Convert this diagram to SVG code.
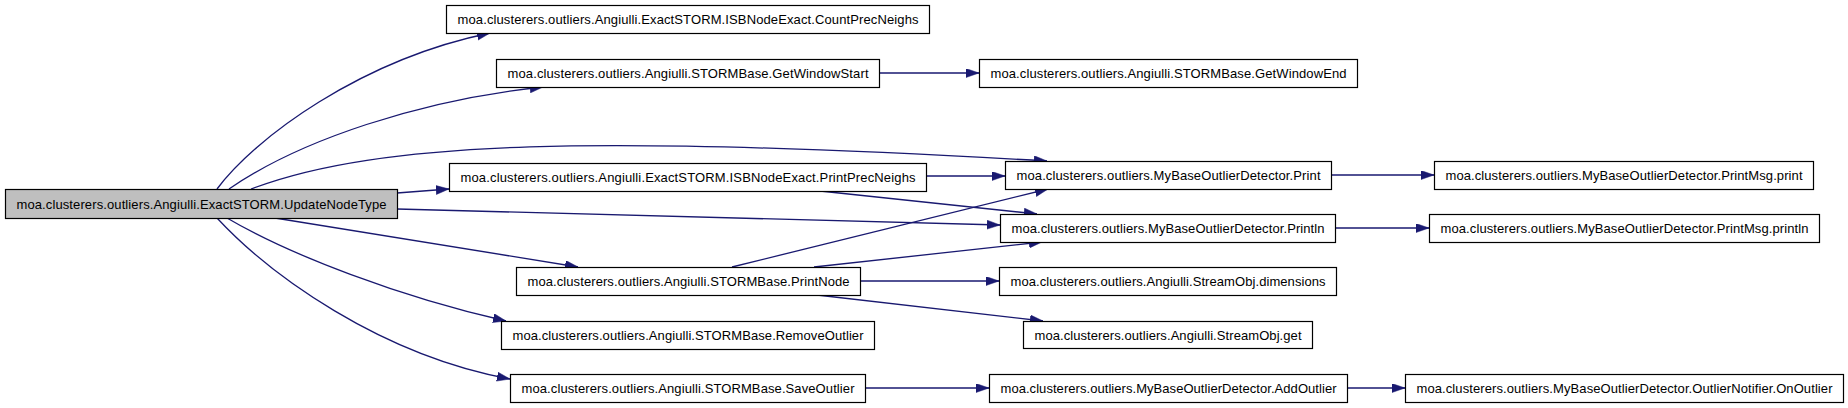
<svg xmlns="http://www.w3.org/2000/svg" width="1848" height="408" viewBox="0 0 1848 408">
<style>
  .node rect { fill: #ffffff; stroke: #000000; stroke-width: 1.2; }
  .node.root rect { fill: #bfbfbf; }
  .node text { font-family: "Liberation Sans", Arial, sans-serif; font-size: 13px; fill: #000000; text-anchor: middle; }
  .edges path { fill: none; stroke: #191970; stroke-width: 1.3; marker-end: url(#arrow); }
</style>
<defs>
  <marker id="arrow" markerUnits="userSpaceOnUse" markerWidth="14" markerHeight="10" refX="13" refY="4.5" orient="auto">
    <path d="M0,0 L13,4.5 L0,9 z" fill="#191970" stroke="#191970" stroke-width="0.5"/>
  </marker>
</defs>
<rect width="1848" height="408" fill="#ffffff"/>
<g class="edges" id="edges">
  <path d="M217,189 C255,138 360,60 490,33"/>
  <path d="M229,189 C300,140 420,100 543,87"/>
  <path d="M251,189 C380,140 600,135 1047,161"/>
  <path d="M397,193 L449,189"/>
  <path d="M397,209 L1000,225"/>
  <path d="M275,218 L578,267"/>
  <path d="M227,218 C290,255 400,297 506,321"/>
  <path d="M217,218 C270,275 380,355 510,379"/>
  <path d="M879,73 L979,73"/>
  <path d="M926,176 L1005,176"/>
  <path d="M820,191 L1037,214"/>
  <path d="M1331,175 L1434,175"/>
  <path d="M1335,228 L1429,228"/>
  <path d="M732,267 L1048,189"/>
  <path d="M814,267 L1042,242"/>
  <path d="M860,281 L999,281"/>
  <path d="M817,295 L1043,321"/>
  <path d="M865,388 L989,388"/>
  <path d="M1347,388 L1405,388"/>
</g>
<g class="node root" id="node-UpdateNodeType">
  <rect x="5.5" y="189.5" width="392" height="29"/>
  <text x="201.5" y="208.5" textLength="370" lengthAdjust="spacing">moa.clusterers.outliers.Angiulli.ExactSTORM.UpdateNodeType</text>
</g>
<g class="node" id="node-CountPrecNeighs">
  <rect x="446.5" y="5.5" width="483" height="28"/>
  <text x="688" y="24" textLength="461" lengthAdjust="spacing">moa.clusterers.outliers.Angiulli.ExactSTORM.ISBNodeExact.CountPrecNeighs</text>
</g>
<g class="node" id="node-GetWindowStart">
  <rect x="496.5" y="59.5" width="383" height="28"/>
  <text x="688" y="78" textLength="361" lengthAdjust="spacing">moa.clusterers.outliers.Angiulli.STORMBase.GetWindowStart</text>
</g>
<g class="node" id="node-GetWindowEnd">
  <rect x="979.5" y="59.5" width="378" height="28"/>
  <text x="1168.5" y="78" textLength="356" lengthAdjust="spacing">moa.clusterers.outliers.Angiulli.STORMBase.GetWindowEnd</text>
</g>
<g class="node" id="node-PrintPrecNeighs">
  <rect x="449.5" y="163.5" width="477" height="28"/>
  <text x="688" y="182" textLength="455" lengthAdjust="spacing">moa.clusterers.outliers.Angiulli.ExactSTORM.ISBNodeExact.PrintPrecNeighs</text>
</g>
<g class="node" id="node-Print">
  <rect x="1005.5" y="161.5" width="326" height="28"/>
  <text x="1168.5" y="180" textLength="304" lengthAdjust="spacing">moa.clusterers.outliers.MyBaseOutlierDetector.Print</text>
</g>
<g class="node" id="node-PrintMsg-print">
  <rect x="1434.5" y="161.5" width="379" height="28"/>
  <text x="1624" y="180" textLength="357" lengthAdjust="spacing">moa.clusterers.outliers.MyBaseOutlierDetector.PrintMsg.print</text>
</g>
<g class="node" id="node-Println">
  <rect x="1000.5" y="214.5" width="335" height="28"/>
  <text x="1168" y="233" textLength="313" lengthAdjust="spacing">moa.clusterers.outliers.MyBaseOutlierDetector.Println</text>
</g>
<g class="node" id="node-PrintMsg-println">
  <rect x="1429.5" y="214.5" width="390" height="28"/>
  <text x="1624.5" y="233" textLength="368" lengthAdjust="spacing">moa.clusterers.outliers.MyBaseOutlierDetector.PrintMsg.println</text>
</g>
<g class="node" id="node-PrintNode">
  <rect x="516.5" y="267.5" width="344" height="28"/>
  <text x="688.5" y="286" textLength="322" lengthAdjust="spacing">moa.clusterers.outliers.Angiulli.STORMBase.PrintNode</text>
</g>
<g class="node" id="node-dimensions">
  <rect x="999.5" y="267.5" width="337" height="28"/>
  <text x="1168" y="286" textLength="315" lengthAdjust="spacing">moa.clusterers.outliers.Angiulli.StreamObj.dimensions</text>
</g>
<g class="node" id="node-RemoveOutlier">
  <rect x="501.5" y="321.5" width="373" height="28"/>
  <text x="688" y="340" textLength="351" lengthAdjust="spacing">moa.clusterers.outliers.Angiulli.STORMBase.RemoveOutlier</text>
</g>
<g class="node" id="node-get">
  <rect x="1023.5" y="321.5" width="289" height="27"/>
  <text x="1168" y="339.5" textLength="267" lengthAdjust="spacing">moa.clusterers.outliers.Angiulli.StreamObj.get</text>
</g>
<g class="node" id="node-SaveOutlier">
  <rect x="510.5" y="374.5" width="355" height="28"/>
  <text x="688" y="393" textLength="333" lengthAdjust="spacing">moa.clusterers.outliers.Angiulli.STORMBase.SaveOutlier</text>
</g>
<g class="node" id="node-AddOutlier">
  <rect x="989.5" y="374.5" width="358" height="28"/>
  <text x="1168.5" y="393" textLength="336" lengthAdjust="spacing">moa.clusterers.outliers.MyBaseOutlierDetector.AddOutlier</text>
</g>
<g class="node" id="node-OnOutlier">
  <rect x="1405.5" y="374.5" width="438" height="28"/>
  <text x="1624.5" y="393" textLength="416" lengthAdjust="spacing">moa.clusterers.outliers.MyBaseOutlierDetector.OutlierNotifier.OnOutlier</text>
</g>
</svg>
